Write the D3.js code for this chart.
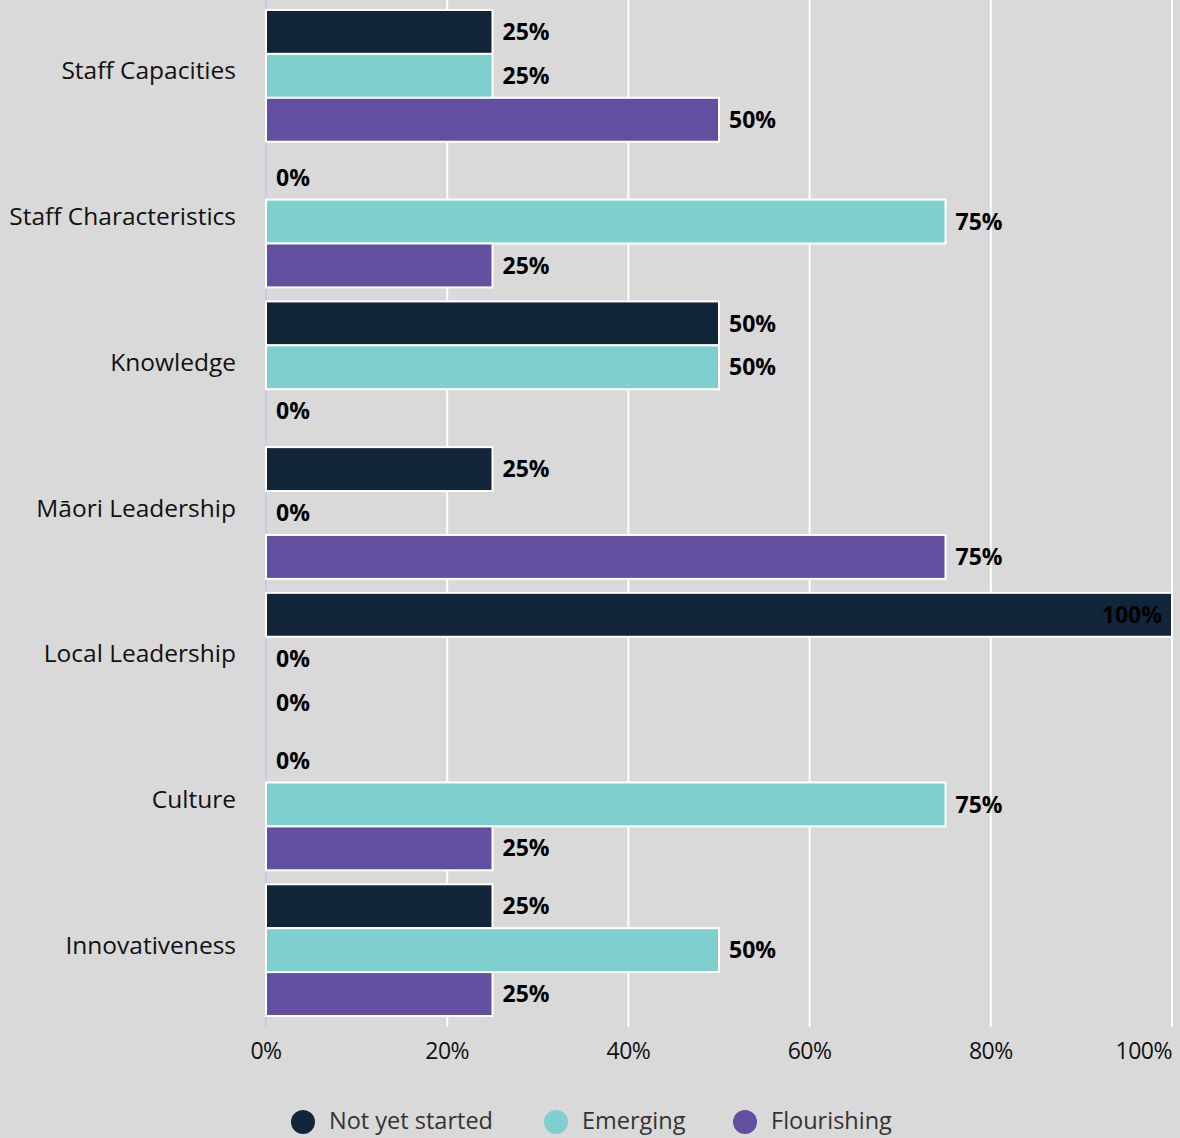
<!DOCTYPE html>
<html>
<head>
<meta charset="utf-8">
<script src="https://cdn.jsdelivr.net/npm/d3@7"></script>
<style>
 body{margin:0;background:#d9d9d9;}
 svg{display:block;}
</style>
</head>
<body>
<div id="chart"></div>
<script>
var categories = ["Staff Capacities", "Staff Characteristics", "Knowledge", "Māori Leadership", "Local Leadership", "Culture", "Innovativeness"];
var seriesNames = ["Not yet started", "Emerging", "Flourishing"];
var notYetStarted = [25, 0, 50, 25, 100, 0, 25];
var emerging = [25, 75, 50, 0, 0, 75, 50];
var flourishing = [50, 25, 0, 75, 0, 25, 25];
var tickValues = [0, 20, 40, 60, 80, 100];
var colors = ["#12263a", "#7fcfcf", "#634fa0"];

var width = 1180, height = 1138;
var seriesData = [notYetStarted, emerging, flourishing];

var svg = d3.select('#chart').append('svg')
   .attr('width', width)
   .attr('height', height)
   .style('background-color', '#d9d9d9');

var x = d3.scaleLinear().domain([0, 100]).range([266, 1172]);
var y0 = d3.scaleBand().domain(categories).range([3, 1023]).paddingInner(0.096).paddingOuter(0.048);
var y1 = d3.scaleBand().domain(seriesNames).range([0, y0.bandwidth()]);

// gridlines
svg.append('g').selectAll('line')
   .data(tickValues)
   .enter().append('line')
   .attr('x1', function(d){ return x(d); })
   .attr('x2', function(d){ return x(d); })
   .attr('y1', 0).attr('y2', 1027)
   .attr('stroke', function(d){ return d == 0 ? '#c9cce0' : '#ffffff'; })
   .attr('stroke-width', 2);

// x tick labels
svg.append('g').selectAll('text')
   .data(tickValues)
   .enter().append('text')
   .attr('x', function(d){ return x(d); })
   .attr('y', 1059)
   .attr('text-anchor', function(d){ return d == 100 ? 'end' : 'middle'; })
   .style('font-family', 'Open Sans')
   .style('font-size', '23px')
   .style('letter-spacing', '-0.5px')
   .style('fill', '#111')
   .text(function(d){ return d + '%'; });

// category labels
svg.append('g').selectAll('text')
   .data(categories)
   .enter().append('text')
   .attr('x', 236)
   .attr('y', function(d){ return y0(d) + y0.bandwidth()/2 - 3; })
   .attr('dominant-baseline', 'middle')
   .attr('text-anchor', 'end')
   .style('font-family', 'Open Sans')
   .style('font-size', '24.5px')
   .style('fill', '#111')
   .text(function(d){ return d; });

// bars
var groups = svg.append('g').selectAll('g')
   .data(categories)
   .enter().append('g')
   .attr('transform', function(d){ return 'translate(0,' + y0(d) + ')'; });

var cells = groups.selectAll('g.cell')
   .data(function(d, i){
     return seriesNames.map(function(s, j){ return {series: s, idx: j, value: seriesData[j][i]}; });
   })
   .enter().append('g').classed('cell', true);

cells.filter(function(d){ return d.value > 0; })
   .append('rect')
   .attr('x', x(0))
   .attr('y', function(d){ return y1(d.series); })
   .attr('width', function(d){ return x(d.value) - x(0); })
   .attr('height', y1.bandwidth())
   .attr('fill', function(d){ return colors[d.idx]; })
   .attr('stroke', '#ffffff')
   .attr('stroke-width', 2);

cells.append('text')
   .attr('x', function(d){ return d.value == 100 ? x(d.value) - 10 : x(d.value) + 10; })
   .attr('y', function(d){ return y1(d.series) + y1.bandwidth()/2 + 2; })
   .attr('dominant-baseline', 'middle')
   .attr('text-anchor', function(d){ return d.value == 100 ? 'end' : 'start'; })
   .style('font-family', 'Open Sans')
   .style('font-weight', 'bold')
   .style('font-size', '23px')
   .style('fill', '#000')
   .text(function(d){ return d.value + '%'; });

// legend
var legendX = [303, 556, 745];
var legend = svg.append('g').selectAll('g')
   .data(seriesNames)
   .enter().append('g')
   .attr('transform', function(d, i){ return 'translate(' + legendX[i] + ',1122)'; });
legend.append('circle')
   .attr('r', 12)
   .attr('fill', function(d, i){ return colors[i]; });
legend.append('text')
   .attr('x', 26)
   .attr('y', 1)
   .attr('dominant-baseline', 'middle')
   .style('font-family', 'Open Sans')
   .style('font-size', '23.5px')
   .style('fill', '#333')
   .text(function(d){ return d; });
</script>
</body>
</html>
